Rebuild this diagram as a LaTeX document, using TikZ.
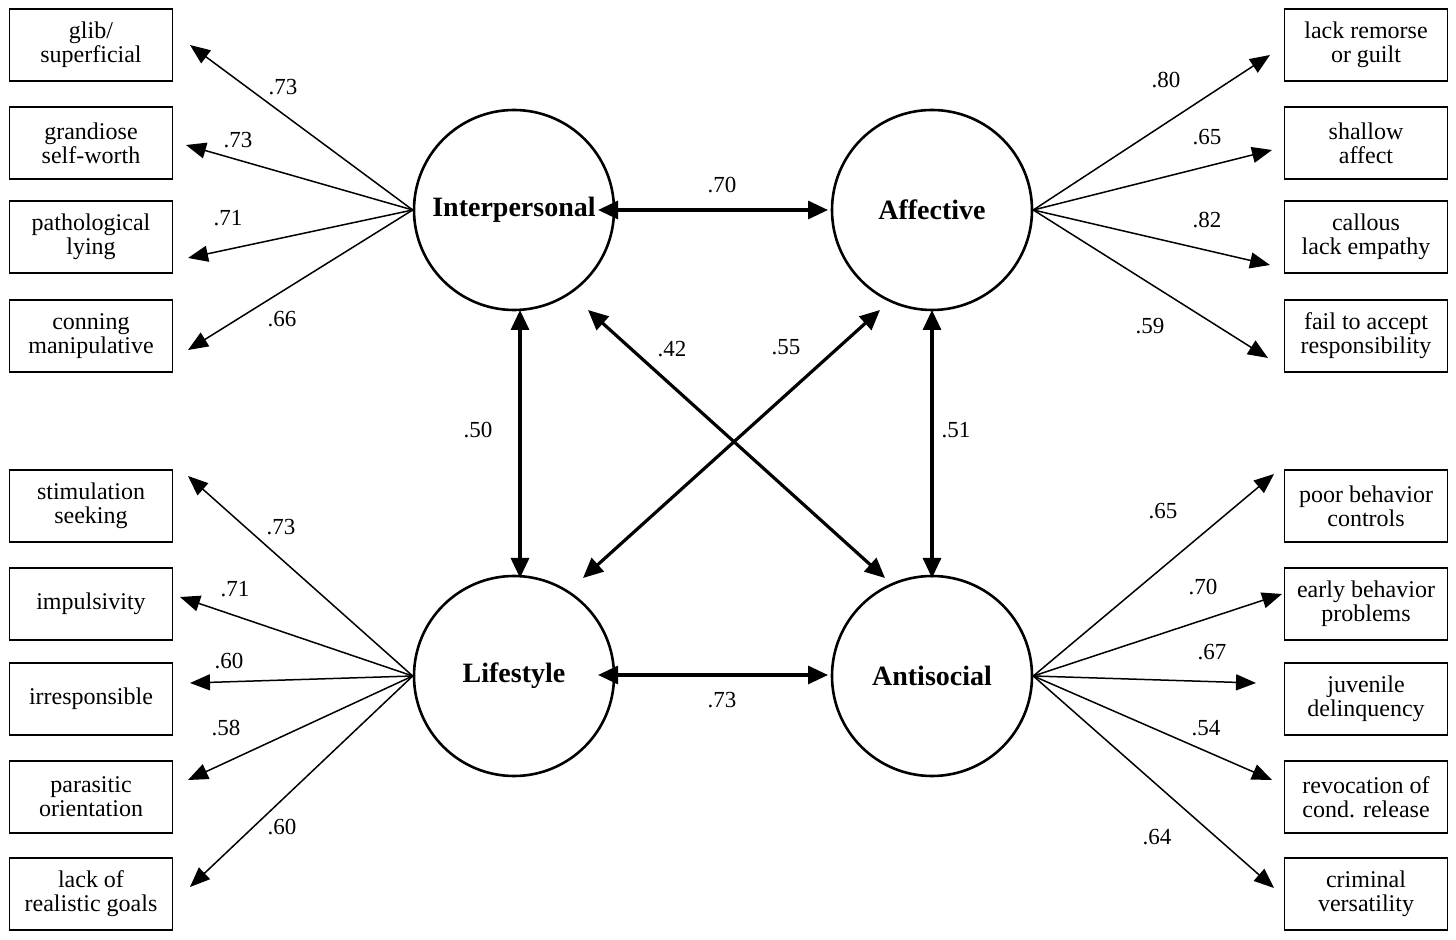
\documentclass[tikz,border=0pt]{standalone}
\usepackage{fontspec}
\setmainfont{Liberation Serif}
\usetikzlibrary{arrows.meta}
\begin{document}
\begin{tikzpicture}[x=0.5pt,y=-0.5pt,
  box/.style={draw,line width=0.9pt,minimum width=81.5pt,minimum height=36pt,align=center,inner sep=1pt,font=\fontsize{12}{12}\selectfont},
  fac/.style={draw,circle,line width=1.3pt,minimum size=100pt,inner sep=0pt,font=\fontsize{14}{14}\selectfont\bfseries},
  ind/.style={line width=0.75pt,-{Triangle[length=10pt,width=8pt]}},
  cor/.style={line width=1.6pt,{Triangle[length=10pt,width=9pt]}-{Triangle[length=10pt,width=9pt]}},
  lab/.style={font=\fontsize{11.5}{12}\selectfont}]
\useasboundingbox (0,0) rectangle (1456,940);
% factors
\node[fac] (I) at (514,210) {Interpersonal};
\node[fac] (A) at (932,210) {Affective};
\node[fac] (L) at (514,676) {Lifestyle};
\node[fac] (S) at (932,676) {Antisocial};
% left boxes
\node[box] (b1) at (91,45) {glib/\\superficial};
\node[box] (b2) at (91,143) {grandiose\\self-worth};
\node[box] (b3) at (91,237) {pathological\\lying};
\node[box] (b4) at (91,336) {conning\\manipulative};
\node[box] (b5) at (91,506) {stimulation\\seeking};
\node[box] (b6) at (91,604) {impulsivity};
\node[box] (b7) at (91,699) {irresponsible};
\node[box] (b8) at (91,797) {parasitic\\orientation};
\node[box] (b9) at (91,894) {lack of\\realistic goals};
% right boxes
\node[box] (r1) at (1366,45) {lack remorse\\or guilt};
\node[box] (r2) at (1366,143) {shallow\\affect};
\node[box] (r3) at (1366,237) {callous\\lack empathy};
\node[box] (r4) at (1366,336) {fail to accept\\responsibility};
\node[box] (r5) at (1366,506) {poor behavior\\controls};
\node[box] (r6) at (1366,604) {early behavior\\problems};
\node[box] (r7) at (1366,699) {juvenile\\delinquency};
\node[box] (r8) at (1366,797) {revocation of\\cond. release};
\node[box] (r9) at (1366,894) {criminal\\versatility};
% arrow end coordinates
\coordinate (e1) at (190,45); \coordinate (e2) at (186,145);
\coordinate (e3) at (188,258); \coordinate (e4) at (188,350);
\coordinate (e5) at (188,476); \coordinate (e6) at (180,597);
\coordinate (e7) at (190,683); \coordinate (e8) at (188,780);
\coordinate (e9) at (190,887);
\coordinate (f1) at (1270,55); \coordinate (f2) at (1272,150);
\coordinate (f3) at (1270,265); \coordinate (f4) at (1268,358);
\coordinate (f5) at (1274,474); \coordinate (f6) at (1282,594);
\coordinate (f7) at (1256,683); \coordinate (f8) at (1272,780);
\coordinate (f9) at (1274,888);
\foreach \e in {e1,e2,e3,e4} \draw[ind] (I.west) -- (\e);
\foreach \e in {e5,e6,e7,e8,e9} \draw[ind] (L.west) -- (\e);
\foreach \e in {f1,f2,f3,f4} \draw[ind] (A.east) -- (\e);
\foreach \e in {f5,f6,f7,f8,f9} \draw[ind] (S.east) -- (\e);
% loadings
\node[lab] at (283,87) {.73}; \node[lab] at (238,140) {.73};
\node[lab] at (228,218) {.71}; \node[lab] at (282,319) {.66};
\node[lab] at (281,527) {.73}; \node[lab] at (235,589) {.71};
\node[lab] at (229,661) {.60}; \node[lab] at (226,728) {.58};
\node[lab] at (282,827) {.60};
\node[lab] at (1166,80) {.80}; \node[lab] at (1207,137) {.65};
\node[lab] at (1207,220) {.82}; \node[lab] at (1150,326) {.59};
\node[lab] at (1163,511) {.65}; \node[lab] at (1203,587) {.70};
\node[lab] at (1212,652) {.67}; \node[lab] at (1206,728) {.54};
\node[lab] at (1157,837) {.64};
% correlations
\coordinate (c1) at (598,210); \coordinate (c2) at (828,210);
\coordinate (c3) at (598,675); \coordinate (c4) at (828,675);
\coordinate (c5) at (520,310); \coordinate (c6) at (520,578);
\coordinate (c7) at (932,310); \coordinate (c8) at (932,578);
\coordinate (c9) at (588,310); \coordinate (c10) at (885,578);
\coordinate (c11) at (880,310); \coordinate (c12) at (583,578);
\draw[cor] (c1) -- (c2); \draw[cor] (c3) -- (c4);
\draw[cor] (c5) -- (c6); \draw[cor] (c7) -- (c8);
\draw[cor] (c9) -- (c10); \draw[cor] (c11) -- (c12);
\node[lab] at (722,185) {.70}; \node[lab] at (722,700) {.73};
\node[lab] at (478,430) {.50}; \node[lab] at (956,430) {.51};
\node[lab] at (672,349) {.42}; \node[lab] at (786,347) {.55};
\end{tikzpicture}
\end{document}
